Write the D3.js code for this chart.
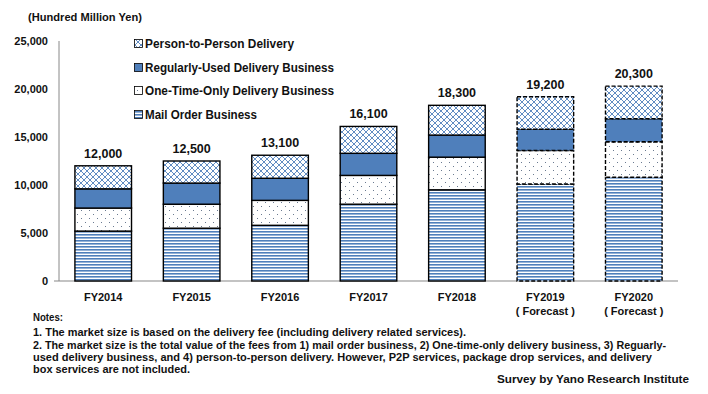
<!doctype html>
<html>
<head>
<meta charset="utf-8">
<title>Delivery market size</title>
<script src="https://cdn.jsdelivr.net/npm/d3@7"></script>
<style>
  body { margin:0; background:#fff; }
  text { font-family: "Liberation Sans", Arial, sans-serif; fill:#111; }
</style>
</head>
<body>
<script>
// data (hundred million yen)
var years = ["FY2014","FY2015","FY2016","FY2017","FY2018","FY2019","FY2020"];
var forecast = [false,false,false,false,false,true,true];
var mailOrder = [5200,5500,5800,8000,9500,10100,10800];
var oneTime   = [2400,2500,2600,3000,3400,3500,3700];
var regular   = [2000,2200,2300,2300,2300,2200,2400];
var p2p       = [2400,2300,2400,2800,3100,3400,3400];
var totals    = [12000,12500,13100,16100,18300,19200,20300];
var seriesNames = ["Mail Order Business","One-Time-Only Delivery Business","Regularly-Used Delivery Business","Person-to-Person Delivery"];
var yTicks = [0,5000,10000,15000,20000,25000];

var w = 708, h = 394;
var svg = d3.select("body").append("svg").attr("width", w).attr("height", h);

// patterns
var defs = svg.append("defs");
var pm = defs.append("pattern").attr("id","pMail").attr("patternUnits","userSpaceOnUse").attr("width",4).attr("height",3);
pm.append("rect").attr("width",4).attr("height",3).attr("fill","#fff");
pm.append("rect").attr("width",4).attr("height",1.6).attr("fill","#4f7fbb");

var po = defs.append("pattern").attr("id","pOne").attr("patternUnits","userSpaceOnUse").attr("width",8).attr("height",8);
po.append("rect").attr("width",8).attr("height",8).attr("fill","#fff");
po.append("rect").attr("x",1).attr("y",2).attr("width",1).attr("height",1).attr("fill","#6a7a90");
po.append("rect").attr("x",5).attr("y",6).attr("width",1).attr("height",1).attr("fill","#6a7a90");

var pp = defs.append("pattern").attr("id","pP2p").attr("patternUnits","userSpaceOnUse").attr("width",6).attr("height",6);
pp.append("rect").attr("width",6).attr("height",6).attr("fill","#fff");
pp.append("path").attr("d","M0,0L6,6M6,0L0,6").attr("stroke","#4f7fbb").attr("stroke-width",0.9).attr("fill","none");

var fills = ["url(#pMail)","url(#pOne)","#4f7fbb","url(#pP2p)"];

var x = d3.scaleBand().domain(years).range([59, 678]).paddingInner(0.36).paddingOuter(0.18);
var y = d3.scaleLinear().domain([0,25000]).range([281, 41]);

// axes
svg.append("line").attr("x1",59).attr("x2",59).attr("y1",y(25000)).attr("y2",y(0)).attr("stroke","#888");
svg.append("line").attr("x1",54).attr("x2",678).attr("y1",y(0)).attr("y2",y(0)).attr("stroke","#888").attr("stroke-width",1.2);

svg.selectAll(".ytick").data(yTicks).enter().append("text")
  .attr("x",48).attr("y",function(d){return y(d)+4;})
  .attr("text-anchor","end").attr("font-size",11).attr("font-weight","bold")
  .text(function(d){return d3.format(",")(d);});

svg.append("text").attr("x",28).attr("y",21).attr("font-size",11).attr("font-weight","bold")
  .attr("textLength",114).attr("lengthAdjust","spacingAndGlyphs")
  .text("(Hundred Million Yen)");

// stacked bars
var rows = years.map(function(yr,i){
  return {year:yr, fc:forecast[i], vals:[mailOrder[i],oneTime[i],regular[i],p2p[i]]};
});
var stack = d3.stack().keys([0,1,2,3]).value(function(d,k){return d.vals[k];});
var layers = stack(rows);

layers.forEach(function(layer, k){
  svg.selectAll(".seg"+k).data(layer).enter().append("rect")
    .attr("x",function(d){return x(d.data.year);})
    .attr("width",x.bandwidth())
    .attr("y",function(d){return y(d[1]);})
    .attr("height",function(d){return y(d[0])-y(d[1]);})
    .attr("fill",fills[k])
    .attr("stroke","#000").attr("stroke-width",1.4)
    .attr("stroke-dasharray",function(d){return d.data.fc ? "4,2" : null;});
});

// totals
svg.selectAll(".tot").data(years).enter().append("text")
  .attr("x",function(d){return x(d)+x.bandwidth()/2;})
  .attr("y",function(d,i){return y(totals[i])-8;})
  .attr("text-anchor","middle").attr("font-size",12.5).attr("font-weight","bold")
  .text(function(d,i){return d3.format(",")(totals[i]);});

// x labels
svg.selectAll(".xl").data(years).enter().append("text")
  .attr("x",function(d){return x(d)+x.bandwidth()/2;})
  .attr("y",301).attr("text-anchor","middle").attr("font-size",11).attr("font-weight","bold")
  .text(function(d){return d;});
svg.selectAll(".fc").data(years.filter(function(d,i){return forecast[i];})).enter().append("text")
  .attr("x",function(d){return x(d)+x.bandwidth()/2;})
  .attr("y",315).attr("text-anchor","middle").attr("font-size",11).attr("font-weight","bold")
  .text("( Forecast )");

// legend (reverse order)
var legendY = [48,72,95,119];
var legendW = [149,189,189,112];
[3,2,1,0].forEach(function(k,j){
  svg.append("rect").attr("x",134.5).attr("y",legendY[j]-8.5).attr("width",8).attr("height",8)
    .attr("fill",fills[k]).attr("stroke","#000").attr("stroke-width",0.8);
  svg.append("text").attr("x",145).attr("y",legendY[j]).attr("font-size",12).attr("font-weight","bold")
    .attr("textLength",legendW[j]).attr("lengthAdjust","spacingAndGlyphs")
    .text(seriesNames[k]);
});

// notes
var notes = [
  "Notes:",
  "1. The market size is based on the delivery fee  (including delivery related services).",
  "2. The market size is the total value of the fees from 1) mail  order business, 2) One-time-only delivery business, 3) Reguarly-",
  "used delivery business, and 4) person-to-person delivery.  However, P2P services,  package drop services, and  delivery",
  "box services are not included."
];
var noteW = [30, 433, 633, 619, 157];
var noteY = [321, 336, 349, 361, 373];
svg.selectAll(".note").data(notes).enter().append("text")
  .attr("x",33).attr("y",function(d,i){return noteY[i];})
  .attr("font-size",11).attr("font-weight","bold")
  .attr("textLength",function(d,i){return noteW[i];}).attr("lengthAdjust","spacingAndGlyphs")
  .text(function(d){return d;});

svg.append("text").attr("x",689).attr("y",383).attr("text-anchor","end")
  .attr("font-size",11.5).attr("font-weight","bold")
  .attr("textLength",192).attr("lengthAdjust","spacingAndGlyphs")
  .text("Survey by Yano Research Institute");
</script>
</body>
</html>
